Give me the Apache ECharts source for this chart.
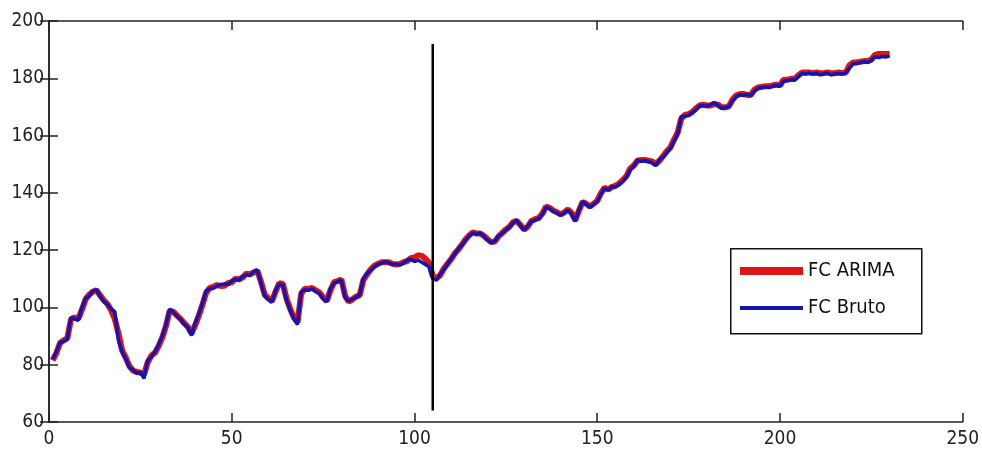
<!DOCTYPE html>
<html>
<head>
<meta charset="utf-8">
<script src="https://cdn.jsdelivr.net/npm/echarts@6/dist/echarts.min.js"></script>
<style>html,body{margin:0;padding:0;background:#fff;}#c{width:982px;height:461px;}</style>
</head>
<body>
<div id="c"></div>
<script>
// Sample index runs 1..230
const fcBruto = [
82.0,84.5,87.8,88.2,89.0,96.5,96.0,95.5,99.8,103.2,
104.0,105.8,106.2,103.8,102.0,101.0,99.5,98.5,88.5,84.5,
82.0,79.0,78.2,77.0,77.5,75.2,81.5,82.8,84.5,87.0,
90.0,94.0,99.5,98.2,97.0,95.8,94.2,93.0,90.2,94.5,
97.8,101.5,105.8,106.5,106.8,107.5,108.0,108.2,108.0,109.2,
109.8,109.5,110.8,111.5,111.2,112.5,113.0,108.5,104.0,102.8,
101.8,106.0,108.2,107.8,102.5,99.0,96.0,94.0,105.5,106.2,
106.0,106.5,105.5,104.8,103.0,102.0,106.5,108.5,109.0,109.5,
103.5,102.2,103.0,103.5,104.5,110.0,111.8,113.0,114.2,115.0,
115.5,116.0,115.5,115.0,115.2,114.8,115.5,116.5,116.8,116.0,
116.5,115.8,115.0,114.2,110.0,109.5,111.5,113.2,115.0,117.0,
118.5,120.5,121.8,123.5,125.0,126.0,125.5,126.0,124.8,123.5,
122.5,123.2,125.0,125.8,127.0,128.0,129.5,130.5,128.5,127.0,
128.5,130.0,130.5,131.0,132.5,135.0,134.5,133.5,133.0,132.2,
133.0,134.0,132.5,130.0,134.0,137.0,136.0,135.0,136.0,137.0,
139.5,141.5,141.0,142.2,142.0,143.0,144.0,145.5,148.0,149.2,
151.5,151.0,151.2,151.0,150.5,149.5,151.5,152.5,154.0,155.5,
158.0,160.5,166.5,166.8,167.0,168.0,169.0,170.3,170.5,170.2,
170.8,171.5,170.5,169.5,169.8,170.0,172.0,173.5,174.2,174.0,
174.5,174.0,175.5,176.5,176.8,177.0,176.8,177.2,177.5,177.2,
179.0,179.2,179.5,179.3,180.5,181.7,181.5,181.8,181.5,181.7,
181.2,181.6,181.8,181.2,181.5,181.7,181.5,181.8,183.5,185.0,
185.2,185.5,185.8,185.5,186.2,187.5,187.2,187.6,187.4,187.8
];
const fcArima = [
81.5,84.0,87.5,88.5,89.2,95.8,96.5,96.0,99.2,102.8,
104.5,105.5,106.0,104.2,102.5,101.2,99.0,96.0,91.0,85.0,
82.5,79.5,78.0,77.5,77.2,76.5,80.8,83.2,84.2,86.5,
89.5,93.5,98.8,98.5,97.2,96.0,94.5,93.2,91.0,93.8,
97.2,101.0,105.2,106.8,107.2,107.8,107.5,107.6,108.5,108.8,
110.0,109.8,110.5,111.8,111.5,112.2,112.8,109.0,104.5,103.2,
102.2,105.5,108.5,108.2,103.0,99.5,96.5,94.8,104.8,106.5,
106.5,106.8,106.0,105.2,103.5,102.2,106.0,108.8,109.2,109.8,
104.2,102.0,102.8,103.8,104.2,109.5,111.5,113.2,114.5,115.2,
115.8,115.8,115.8,115.2,115.0,115.2,115.8,116.2,117.2,117.5,
118.2,118.0,117.0,115.5,111.0,110.2,111.2,113.5,115.2,116.8,
118.8,120.2,122.0,123.8,125.2,126.2,125.8,125.8,125.0,123.8,
122.8,123.0,124.8,126.0,127.2,128.2,129.8,130.2,128.8,127.2,
128.2,130.2,130.8,131.2,132.8,135.2,134.8,133.8,133.2,132.5,
133.2,134.2,133.0,130.5,133.8,136.8,136.2,135.2,136.2,137.2,
139.8,141.8,141.2,142.0,142.5,143.2,144.5,145.8,148.5,149.5,
151.2,151.5,151.5,151.2,151.0,150.0,151.2,152.8,154.5,155.8,
158.5,161.0,166.0,167.2,167.5,168.2,169.5,170.5,170.8,170.5,
170.5,171.0,170.8,170.0,169.8,170.2,172.5,174.0,174.5,174.5,
174.2,174.2,176.0,176.8,177.0,177.2,177.2,177.5,177.8,177.5,
179.5,179.5,179.8,179.8,181.0,182.0,182.0,182.0,181.8,182.0,
181.8,181.8,182.0,181.8,181.8,182.0,181.8,182.0,184.5,185.5,
185.5,185.8,186.0,186.0,186.5,188.2,188.5,188.5,188.5,188.5
];
const seriesNames = ['FC ARIMA', 'FC Bruto'];
const splitX = 105;
const splitYRange = [64, 192];
const xTicks = [0, 50, 100, 150, 200, 250];
const yTicks = [60, 80, 100, 120, 140, 160, 180, 200];

const FONT = "'Liberation Sans Narrow', 'DejaVu Sans Condensed', 'Arial Narrow', sans-serif";
const RED = '#dd1515', BLUE = '#1414b0';
const sampleIdx = fcBruto.map((_, i) => i + 1);
const toPairs = arr => arr.map((v, i) => [sampleIdx[i], v]);

const xMin = xTicks[0], xMax = xTicks[xTicks.length - 1], xStep = xTicks[1] - xTicks[0];
const yMin = yTicks[0], yMax = yTicks[yTicks.length - 1], yStep = yTicks[1] - yTicks[0];

const axisLine = { show: true, lineStyle: { color: '#222', width: 1.5 } };
const tickIn = { show: true, inside: true, length: 9, lineStyle: { color: '#222', width: 1.5 } };

const legendBase = {
  orient: 'vertical', left: 740, padding: 0,
  itemWidth: 63, icon: 'rect',
  textStyle: { fontFamily: FONT, fontSize: 20, color: '#111' },
  selectedMode: false
};

const chart = echarts.init(document.getElementById('c'), null, { renderer: 'canvas' });
chart.setOption({
  animation: false,
  backgroundColor: '#fff',
  grid: { left: 49, right: 18, top: 21, bottom: 39, containLabel: false },
  xAxis: [
    { type: 'value', min: xMin, max: xMax, interval: xStep, position: 'bottom',
      axisLine: axisLine, axisTick: tickIn, splitLine: { show: false },
      axisLabel: { show: true, margin: 8, color: '#222', fontSize: 19, fontFamily: FONT } },
    { type: 'value', min: xMin, max: xMax, interval: xStep, position: 'top',
      axisLine: axisLine, axisTick: tickIn, splitLine: { show: false },
      axisLabel: { show: false } }
  ],
  yAxis: [
    { type: 'value', min: yMin, max: yMax, interval: yStep, position: 'left',
      axisLine: axisLine, axisTick: tickIn, splitLine: { show: false },
      axisLabel: { show: true, margin: 5, color: '#222', fontSize: 19, fontFamily: FONT } },
    { type: 'value', min: yMin, max: yMax, interval: yStep, position: 'right',
      axisLine: axisLine, axisTick: tickIn, splitLine: { show: false },
      axisLabel: { show: false } }
  ],
  graphic: [
    { type: 'rect', left: 730, top: 248, z: 90,
      shape: { width: 191, height: 85 },
      style: { fill: '#fff', stroke: '#111', lineWidth: 1.5 } }
  ],
  legend: [
    Object.assign({}, legendBase, { data: [seriesNames[0]], top: 261, itemHeight: 8, z: 100 }),
    Object.assign({}, legendBase, { data: [seriesNames[1]], top: 298, itemHeight: 4, z: 100 })
  ],
  series: [
    { name: seriesNames[0], type: 'line', data: toPairs(fcArima), symbol: 'none',
      lineStyle: { color: RED, width: 6 }, itemStyle: { color: RED }, z: 2 },
    { name: seriesNames[1], type: 'line', data: toPairs(fcBruto), symbol: 'none',
      lineStyle: { color: BLUE, width: 3.5 }, itemStyle: { color: BLUE }, z: 3 },
    { name: 'split', type: 'line', data: [[splitX, splitYRange[0]], [splitX, splitYRange[1]]],
      symbol: 'none', lineStyle: { color: '#000', width: 2.5 }, z: 4, silent: true }
  ]
});
</script>
</body>
</html>
